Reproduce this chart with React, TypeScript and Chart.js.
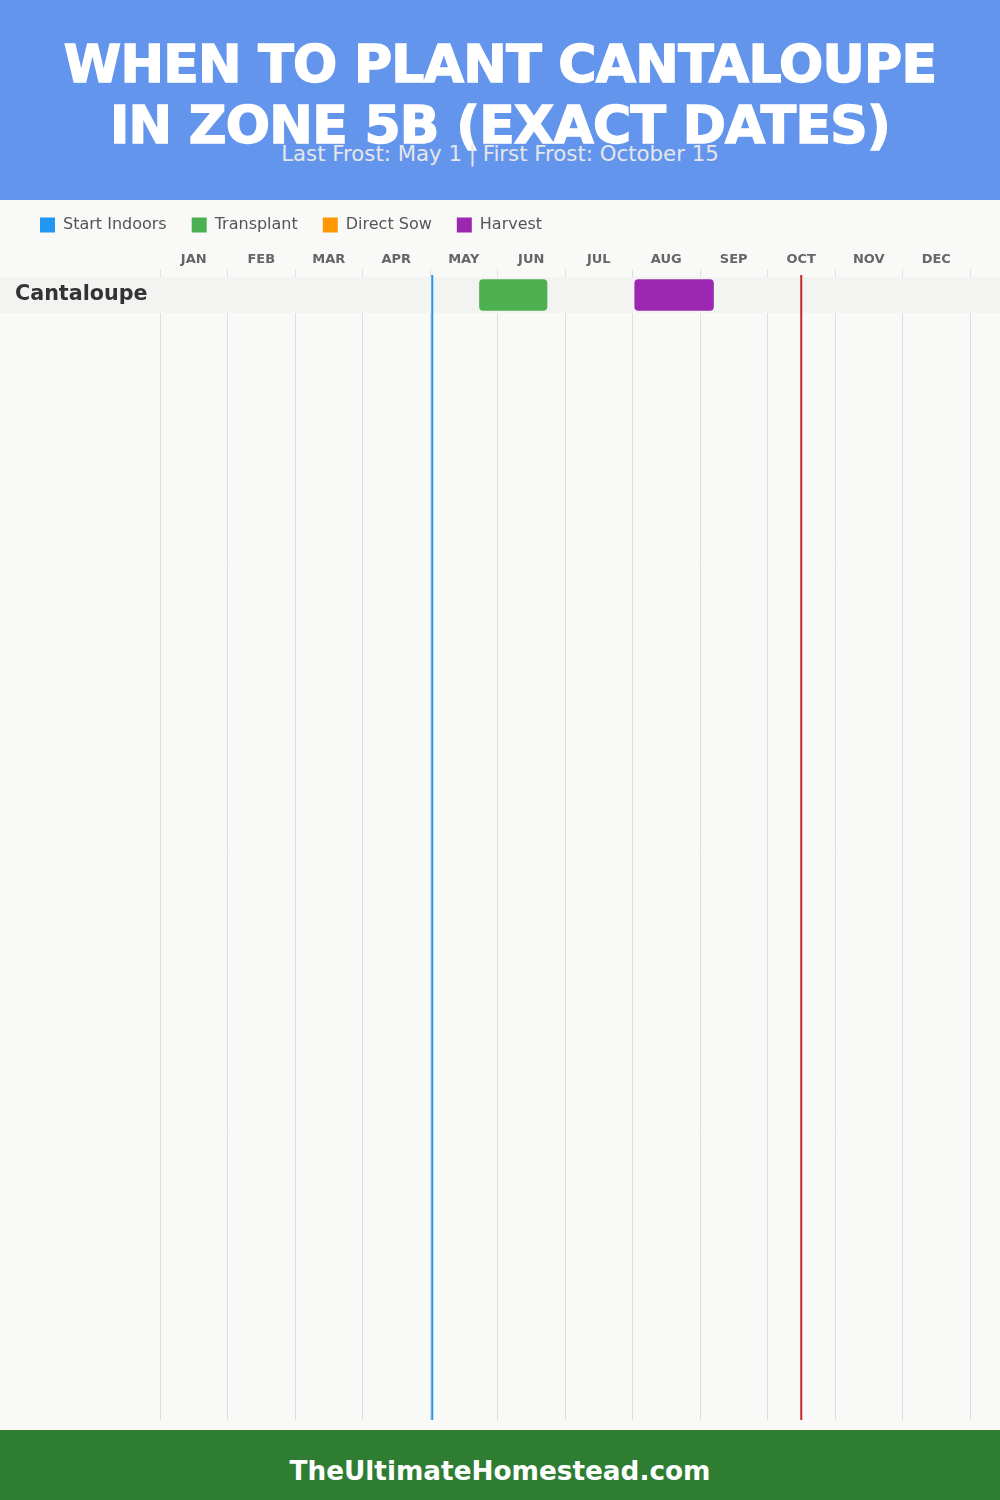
import React, { useEffect, useRef } from 'react';
import { Chart, registerables } from 'chart.js';

Chart.register(...registerables);

// ---------- data ----------
const TITLE_LINES = ['WHEN TO PLANT CANTALOUPE', 'IN ZONE 5B (EXACT DATES)'];
const SUBTITLE = 'Last Frost: May 1 | First Frost: October 15';
const FOOTER = 'TheUltimateHomestead.com';

const MONTHS = ['JAN', 'FEB', 'MAR', 'APR', 'MAY', 'JUN', 'JUL', 'AUG', 'SEP', 'OCT', 'NOV', 'DEC'];
const CROPS = ['Cantaloupe'];

const STAGES = ['Start Indoors', 'Transplant', 'Direct Sow', 'Harvest'];
const STAGE_COLORS = ['#2196F3', '#4CAF50', '#FF9800', '#9C27B0'];

// one entry per crop: [start, end] or null
const START_INDOORS: (string[] | null)[] = [null];
const TRANSPLANT: (string[] | null)[] = [['May 22', 'Jun 22']];
const DIRECT_SOW: (string[] | null)[] = [null];
const HARVEST: (string[] | null)[] = [['Aug 1', 'Sep 6']];

const LAST_FROST = 'May 1';
const FIRST_FROST = 'Oct 15';
const FROST_COLORS = ['#2196F3', '#C62828'];

// ---------- helpers ----------
const FONT = "'DejaVu Sans', sans-serif";
const ROW_PX = 36;
const PLOT_PX = 1143;

function toMonthValue(d: string): number {
  const [m, day] = d.split(' ');
  const idx = MONTHS.indexOf(m.slice(0, 3).toUpperCase());
  return idx + Number(day) / 30;
}

const STAGE_DATA = [START_INDOORS, TRANSPLANT, DIRECT_SOW, HARVEST];

export default function App() {
  const ref = useRef<HTMLCanvasElement | null>(null);

  useEffect(() => {
    if (!ref.current) return;
    Chart.defaults.font.family = FONT;

    const bandPlugin = {
      id: 'rowBands',
      beforeDatasetsDraw(chart: any) {
        const { ctx } = chart;
        const y = chart.scales.y;
        ctx.save();
        ctx.fillStyle = '#f3f3f2';
        CROPS.forEach((_, i) => {
          const y0 = y.getPixelForValue(i - 0.5);
          const y1 = y.getPixelForValue(i + 0.5);
          ctx.fillRect(0, y0, chart.width, y1 - y0);
        });
        ctx.restore();
      },
    };

    const frostPlugin = {
      id: 'frostLines',
      afterDatasetsDraw(chart: any) {
        const { ctx, chartArea } = chart;
        const x = chart.scales.x;
        ctx.save();
        [LAST_FROST, FIRST_FROST].forEach((d, i) => {
          const px = x.getPixelForValue(toMonthValue(d));
          ctx.strokeStyle = FROST_COLORS[i];
          ctx.lineWidth = 2;
          ctx.beginPath();
          ctx.moveTo(px, chartArea.top - 2);
          ctx.lineTo(px, chartArea.bottom);
          ctx.stroke();
        });
        ctx.restore();
      },
    };

    const datasets = STAGES.map((label, s) => ({
      label,
      data: STAGE_DATA[s]
        .map((p, i) => (p ? { x: [toMonthValue(p[0]), toMonthValue(p[1])], y: i } : null))
        .filter((v) => v !== null),
      backgroundColor: STAGE_COLORS[s],
      borderWidth: 0,
      borderRadius: 4,
      borderSkipped: false,
      barThickness: 31,
      grouped: false,
      xAxisID: 'x',
      yAxisID: 'y',
    }));

    const chart = new Chart(ref.current, {
      type: 'bar',
      data: { datasets: datasets as any },
      options: {
        indexAxis: 'y',
        animation: false,
        responsive: false,
        devicePixelRatio: 1,
        layout: { padding: { left: 15, right: 30, top: 0, bottom: 10 } },
        plugins: {
          legend: {
            display: true,
            position: 'top',
            align: 'start',
            labels: {
              boxWidth: 15,
              boxHeight: 15,
              padding: 25,
              color: '#555',
              font: { size: 16, family: FONT },
            },
          },
          tooltip: { enabled: false },
        },
        scales: {
          x: {
            type: 'linear',
            position: 'top',
            min: 0,
            max: 12,
            display: false,
          },
          xm: {
            type: 'category',
            labels: MONTHS,
            position: 'top',
            offset: true,
            grid: { offset: true, color: '#dedede', lineWidth: 1, tickLength: 8 },
            border: { display: false },
            ticks: {
              color: '#666',
              font: { size: 13, weight: 'bold', family: FONT },
              padding: 2,
              maxRotation: 0,
              autoSkip: false,
            },
            afterFit: (scale: any) => {
              scale.height = 34;
              scale.paddingLeft = 0;
              scale.paddingRight = 0;
            },
          },
          y: {
            type: 'linear',
            reverse: true,
            offset: false,
            min: -0.5,
            max: -0.5 + PLOT_PX / ROW_PX,
            grid: { display: false },
            border: { display: false },
            afterBuildTicks: (scale: any) => {
              scale.ticks = CROPS.map((_, i) => ({ value: i }));
            },
            ticks: {
              z: 1,
              crossAlign: 'far',
              color: '#333',
              font: { size: 20.7, weight: 'bold', family: FONT },
              callback: (v: any) => CROPS[Number(v)] ?? '',
            },
            afterFit: (scale: any) => {
              scale.width = 145;
              scale.paddingTop = 0;
              scale.paddingBottom = 0;
            },
          },
        } as any,
      },
      plugins: [bandPlugin, frostPlugin],
    });
    return () => chart.destroy();
  }, []);

  return (
    <div style={{ position: 'absolute', left: 0, top: 0, width: 1000, height: 1500, background: '#f9f9f8', overflow: 'hidden' }}>
      <div style={{ position: 'absolute', left: 0, top: 0, width: 1000, height: 200, background: '#6495ED' }}>
        {TITLE_LINES.map((t, i) => (
          <div
            key={t}
            style={{
              position: 'absolute',
              left: 0,
              width: 1000,
              top: 38 + i * 61,
              textAlign: 'center',
              color: '#fff',
              fontFamily: FONT,
              fontWeight: 900,
              fontSize: 52,
              letterSpacing: '-0.7px',
              lineHeight: '52px',
              whiteSpace: 'nowrap',
              WebkitTextStroke: '1.5px #fff',
            }}
          >
            {t}
          </div>
        ))}
        <div
          style={{
            position: 'absolute',
            left: 0,
            width: 1000,
            top: 142,
            textAlign: 'center',
            color: '#e4e6ea',
            fontFamily: FONT,
            fontSize: 21.3,
            lineHeight: '24px',
            whiteSpace: 'nowrap',
          }}
        >
          {SUBTITLE}
        </div>
      </div>
      <div style={{ position: 'absolute', left: 0, top: 192, width: 1000, height: 1238 }}>
        <canvas ref={ref} width={1000} height={1238} style={{ display: 'block', width: 1000, height: 1238 }} />
      </div>
      <div style={{ position: 'absolute', left: 0, top: 1430, width: 1000, height: 70, background: '#2E7D32' }}>
        <div
          style={{
            position: 'absolute',
            left: 0,
            top: 6,
            width: 1000,
            color: '#fff',
            fontFamily: FONT,
            fontWeight: 700,
            fontSize: 26.3,
            lineHeight: '70px',
            textAlign: 'center',
            whiteSpace: 'nowrap',
          }}
        >
          {FOOTER}
        </div>
      </div>
    </div>
  );
}
